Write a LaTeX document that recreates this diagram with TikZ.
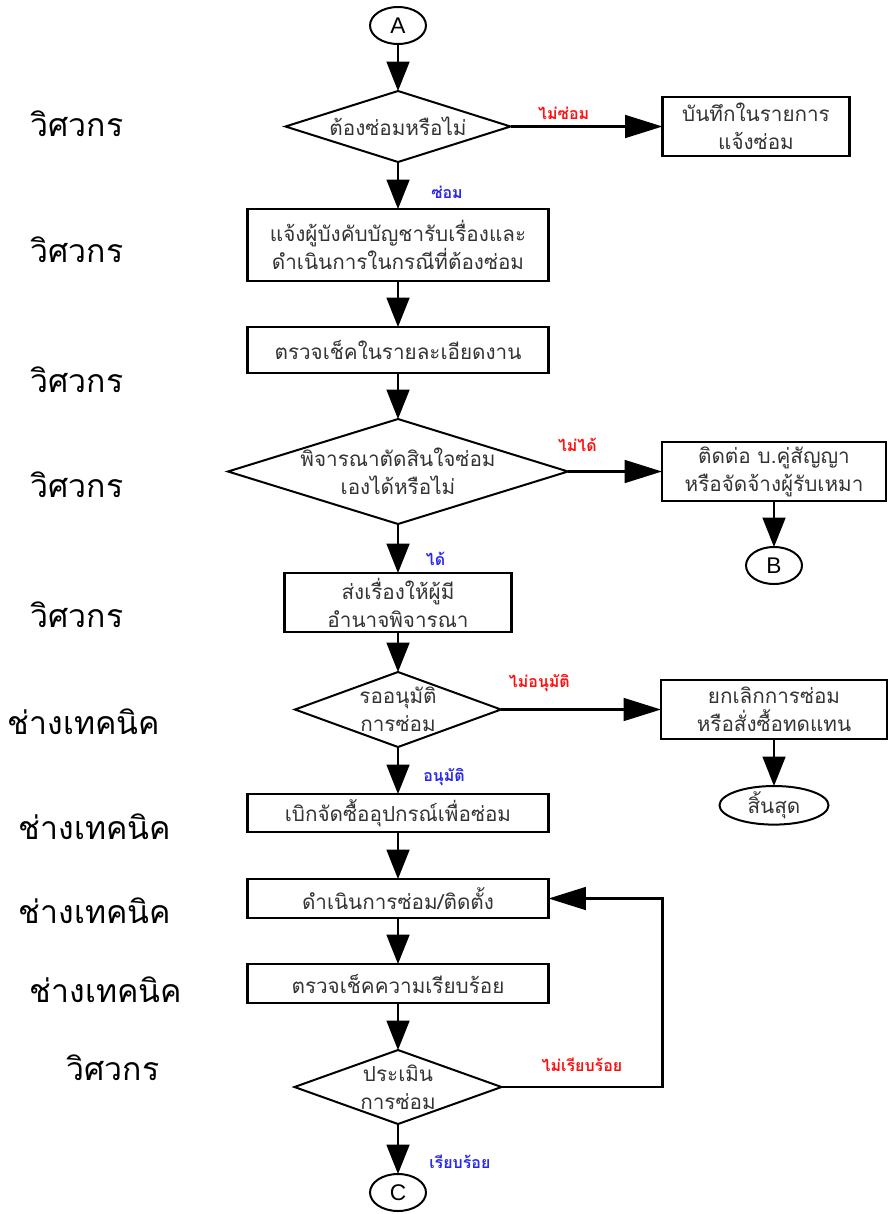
\documentclass[tikz,border=0pt]{standalone}
\usepackage{xcolor}
\usepackage{fontspec}
\setmainfont[Script=Thai]{Loma}
\newfontfamily\letterfont{Liberation Sans}
\usepackage{tikz}
\usetikzlibrary{shapes.geometric, arrows.meta, positioning}
\definecolor{nored}{HTML}{FF1010}
\definecolor{yesblue}{HTML}{2828F0}

\begin{document}
\begin{tikzpicture}[
    % 1 unit = 1 px of the page
    x=0.75pt, y=-0.75pt,
    node distance=35.25pt and 114pt,
    >={Triangle[length=22pt, width=17pt]},
    flow/.style={->, line width=1.9pt},
    sideflow/.style={-{Triangle[length=28pt, width=17pt]}, line width=1.9pt},
    block/.style={rectangle, draw, line width=1.7pt, outer sep=0pt, align=center, text=black!80,
        inner sep=2pt, font=\fontsize{15.5}{21}\selectfont},
    decision/.style={diamond, draw, line width=1.5pt, outer sep=0pt, align=center, text=black!80,
        inner xsep=-12pt, inner ysep=0pt, font=\fontsize{15.5}{21}\selectfont},
    conn/.style={ellipse, draw, line width=1.5pt, outer sep=0pt, minimum width=42pt, minimum height=27.75pt,
        inner sep=0pt, font=\letterfont\fontsize{17}{17}\selectfont},
    terminal/.style={ellipse, draw, line width=1.5pt, outer sep=0pt, align=center, text=black!80,
        inner sep=0pt, font=\fontsize{15.5}{21}\selectfont},
    nolbl/.style={text=nored, font=\bfseries\fontsize{12}{12}\selectfont, inner sep=0pt},
    yeslbl/.style={text=yesblue, font=\bfseries\fontsize{12}{12}\selectfont, inner sep=0pt},
    role/.style={font=\fontsize{24}{24}\selectfont, inner sep=0pt}
]
    \useasboundingbox (0,0) rectangle (888,1214);

    % --- MAIN COLUMN ---
    \node (ca) [conn] at (398,25.5) {A};
    \node (need) [decision, aspect=3.17, below=of ca, minimum width=168.75pt, minimum height=53.25pt]
        {ต้องซ่อมหรือไม่};
    \node (notify) [block, below=of need, minimum width=225.75pt, minimum height=54pt]
        {แจ้งผู้บังคับบัญชารับเรื่องและ\\ดำเนินการในกรณีที่ต้องซ่อม};
    \node (inspect) [block, below=34.5pt of notify, minimum width=225.75pt, minimum height=34.5pt]
        {ตรวจเช็คในรายละเอียดงาน};
    \node (judge) [decision, aspect=3.24, below=34.5pt of inspect, minimum width=255pt, minimum height=78.75pt]
        {พิจารณาตัดสินใจซ่อม\\เองได้หรือไม่};
    \node (forward) [block, below=36.75pt of judge, minimum width=170.25pt, minimum height=44.25pt]
        {ส่งเรื่องให้ผู้มี\\อำนาจพิจารณา};
    \node (approve) [decision, aspect=2.75, below=30pt of forward, minimum width=154.5pt, minimum height=56.25pt]
        {รออนุมัติ\\การซ่อม};
    \node (order) [block, below=of approve, minimum width=225.75pt, minimum height=28.5pt]
        {เบิกจัดซื้ออุปกรณ์เพื่อซ่อม};
    \node (fix) [block, below=of order, minimum width=225.75pt, minimum height=29.25pt]
        {ดำเนินการซ่อม/ติดตั้ง};
    \node (check) [block, below=34.5pt of fix, minimum width=225.75pt, minimum height=29.25pt]
        {ตรวจเช็คความเรียบร้อย};
    \node (eval) [decision, aspect=2.8, below=of check, minimum width=155.25pt, minimum height=55.5pt]
        {ประเมิน\\การซ่อม};
    \node (cc) [conn, below=37.5pt of eval] {C};

    % --- RIGHT COLUMN ---
    \node (log) [block, right=114pt of need, minimum width=140.25pt, minimum height=44.25pt]
        {บันทึกในรายการ\\แจ้งซ่อม};
    \node (contract) [block, right=70.5pt of judge, minimum width=168pt, minimum height=44.25pt]
        {ติดต่อ บ.คู่สัญญา\\หรือจัดจ้างผู้รับเหมา};
    \node (cb) [conn, below=34.5pt of contract] {B};
    \node (cancel) [block, right=120pt of approve, minimum width=169.5pt, minimum height=44.25pt]
        {ยกเลิกการซ่อม\\หรือสั่งซื้อทดแทน};
    \node (stop) [terminal, below=of cancel, minimum width=81.75pt, minimum height=28.5pt] {สิ้นสุด};

    % --- ROLES ---
    \node (r1) [role] at (77,124) {วิศวกร};
    \node (r2) [role] at (77,250) {วิศวกร};
    \node (r3) [role] at (77,380) {วิศวกร};
    \node (r4) [role] at (77,485) {วิศวกร};
    \node (r5) [role] at (77,615) {วิศวกร};
    \node (r6) [role] at (84,722) {ช่างเทคนิค};
    \node (r7) [role] at (95,827) {ช่างเทคนิค};
    \node (r8) [role] at (95,911) {ช่างเทคนิค};
    \node (r9) [role] at (106,990) {ช่างเทคนิค};
    \node (r10) [role] at (113,1068) {วิศวกร};

    % --- EDGES MAIN COLUMN ---
    \draw[flow] (ca) -- (need);
    \draw[flow] (need) -- node[yeslbl, pos=0.64, right=24pt] {ซ่อม} (notify);
    \draw[flow] (notify) -- (inspect);
    \draw[flow] (inspect) -- (judge);
    \draw[flow] (judge) -- node[yeslbl, pos=0.71, right=20pt] {ได้} (forward);
    \draw[flow] (forward) -- (approve);
    \draw[flow] (approve) -- node[yeslbl, pos=0.64, right=18pt] {อนุมัติ} (order);
    \draw[flow] (order) -- (fix);
    \draw[flow] (fix) -- (check);
    \draw[flow] (check) -- (eval);
    \draw[flow] (eval) -- node[yeslbl, pos=0.76, right=22.5pt] {เรียบร้อย} (cc);

    % --- EDGES TO THE RIGHT ---
    \draw[sideflow] (need) -- node[nolbl, pos=0.35, above=4.5pt] {ไม่ซ่อม} (log);
    \draw[sideflow] (judge) -- node[nolbl, pos=0.1, above=14pt] {ไม่ได้} (contract);
    \draw[flow] (contract) -- (cb);
    \draw[sideflow] (approve) -- node[nolbl, pos=0.24, above=12.75pt] {ไม่อนุมัติ} (cancel);
    \draw[flow] (cancel) -- (stop);

    % --- LOOP BACK ---
    \draw[sideflow] (eval.east) -- node[nolbl, above=11pt] {ไม่เรียบร้อย} ++(161,0) |- (fix.east);

\end{tikzpicture}
\end{document}
